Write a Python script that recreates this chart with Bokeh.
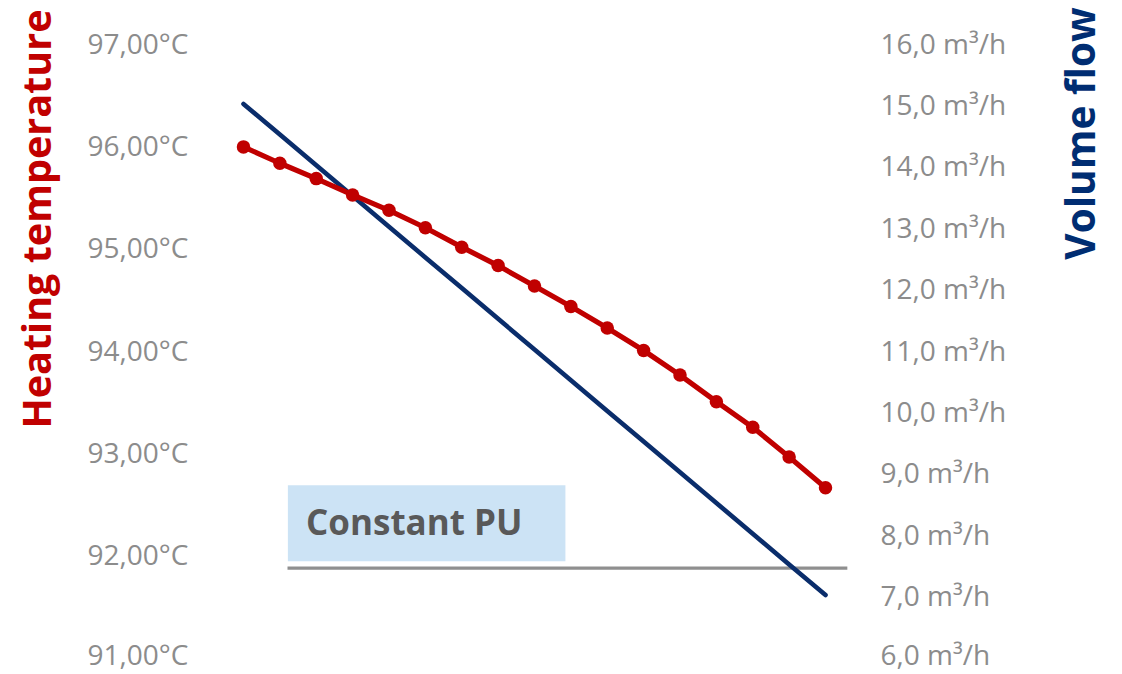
import math
from bokeh.plotting import figure
from bokeh.layouts import row
from bokeh.models import Range1d, LinearAxis, FixedTicker, Label
from bokeh.embed import file_html
from bokeh.resources import INLINE

# ---- data ----
points = list(range(17))
heating_temp = [95.98, 95.82, 95.67, 95.51, 95.36, 95.19, 95.00, 94.82, 94.62,
                94.42, 94.21, 93.99, 93.75, 93.49, 93.24, 92.95, 92.65]
volume_flow = [15.0, 14.5, 14.0, 13.5, 13.0, 12.5, 12.0, 11.5, 11.0,
               10.5, 10.0, 9.5, 9.0, 8.5, 8.0, 7.5, 7.0]
constant_pu_x = [1.21, 16.6]
constant_pu_flow = [7.44, 7.44]
box_x = [1.22, 8.85]
box_flow = [7.55, 8.79]
box_text = "Constant PU"

temp_ticks = [91, 92, 93, 94, 95, 96, 97]
temp_labels = ["91,00°C", "92,00°C", "93,00°C", "94,00°C", "95,00°C", "96,00°C", "97,00°C"]
flow_ticks = [6, 7, 8, 9, 10, 11, 12, 13, 14, 15, 16]
flow_labels = ["6,0 m³/h", "7,0 m³/h", "8,0 m³/h", "9,0 m³/h", "10,0 m³/h", "11,0 m³/h",
               "12,0 m³/h", "13,0 m³/h", "14,0 m³/h", "15,0 m³/h", "16,0 m³/h"]
left_title = "Heating temperature"
right_title = "Volume flow"

RED = "#C00000"
NAVY = "#0A2D6B"
TITLE_NAVY = "#002D72"
GRAY_TXT = "#8C8C8C"
FONT = "Open Sans"
H = 672
TOP_PX, BOT_PX = 42, 656  # pixel rows of the top and bottom ticks


def side_fig(w):
    f = figure(width=w, height=H, output_backend="svg", toolbar_location=None,
               x_range=Range1d(0, w), y_range=Range1d(0, H),
               x_axis_type=None, y_axis_type=None,
               min_border_left=0, min_border_right=0, min_border_top=0, min_border_bottom=0)
    f.outline_line_color = None
    f.xgrid.visible = False
    f.ygrid.visible = False
    return f


def padded(lo, hi):
    per_px = (hi - lo) / (BOT_PX - TOP_PX)
    return Range1d(lo - (H - BOT_PX) * per_px, hi + TOP_PX * per_px)


# left title panel
lf = side_fig(70)
lf.add_layout(Label(x=35, y=H - 218.5, text=left_title, angle=math.pi / 2,
                    text_font=FONT, text_font_style="bold", text_font_size="39.5px",
                    text_color=RED, text_align="center", text_baseline="alphabetic"))

# main plot
p = figure(width=980, height=H, output_backend="svg", toolbar_location=None,
           x_range=Range1d(-0.907, 16.962), y_range=padded(temp_ticks[0], temp_ticks[-1]),
           x_axis_type=None,
           min_border_left=140, min_border_right=190, min_border_top=0, min_border_bottom=0)
p.outline_line_color = None
p.xgrid.visible = False
p.ygrid.visible = False
p.extra_y_ranges = {"flow": padded(flow_ticks[0], flow_ticks[-1])}


def style_axis(ax, ticks, labels, standoff):
    ax.ticker = FixedTicker(ticks=ticks)
    ax.major_label_overrides = {t: l for t, l in zip(ticks, labels)}
    ax.axis_line_color = None
    ax.major_tick_line_color = None
    ax.minor_tick_line_color = None
    ax.major_tick_out = 0
    ax.major_tick_in = 0
    ax.major_label_standoff = standoff
    ax.major_label_text_font = FONT
    ax.major_label_text_font_size = "28px"
    ax.major_label_text_color = GRAY_TXT


style_axis(p.yaxis[0], temp_ticks, temp_labels, 22)
right_axis = LinearAxis(y_range_name="flow")
style_axis(right_axis, flow_ticks, flow_labels, 20)
p.add_layout(right_axis, "right")

# Constant PU box and line
p.quad(left=[box_x[0]], right=[box_x[1]], bottom=[box_flow[0]], top=[box_flow[1]],
       fill_color="#CCE3F5", line_color=None, y_range_name="flow")
p.line(constant_pu_x, constant_pu_flow, line_color="#8F8F8F", line_width=3.2, y_range_name="flow")
p.add_layout(Label(x=1.72, y=8.2, y_range_name="flow", text=box_text,
                   text_font=FONT, text_font_style="bold", text_font_size="35px",
                   text_color="#595959", text_baseline="alphabetic", text_align="left"))

# series
p.line(points, volume_flow, line_color=NAVY, line_width=4.6, line_cap="round", y_range_name="flow")
p.line(points, heating_temp, line_color=RED, line_width=5.2, line_join="round")
p.scatter(points, heating_temp, size=13.5, fill_color=RED, line_color=None)

# right title panel
rf = side_fig(70)
rf.add_layout(Label(x=29, y=H - 133, text=right_title, angle=math.pi / 2,
                    text_font=FONT, text_font_style="bold", text_font_size="40.5px",
                    text_color=TITLE_NAVY, text_align="center", text_baseline="alphabetic"))

layout = row(lf, p, rf, spacing=0)
open("out.html", "w").write(file_html(layout, INLINE))
